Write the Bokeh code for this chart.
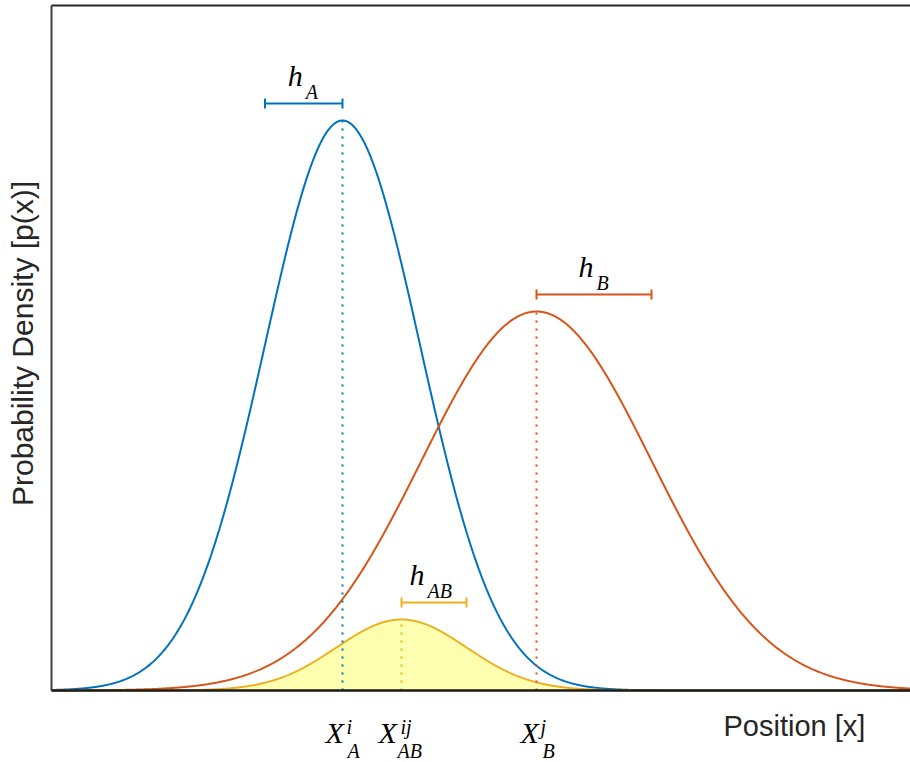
import numpy as np
from bokeh.plotting import figure
from bokeh.models import Label
from bokeh.embed import file_html
from bokeh.resources import INLINE

# ---- data (arbitrary position / density units) ----
names = ["A", "B", "AB"]
means = [291, 485, 350]          # centres X_A^i, X_B^j, X_AB^ij
sigmas = [77.5, 115, 65]         # widths h_A, h_B, h_AB
peaks = [570, 379, 71]           # peak densities
sup_txt = ["i", "j", "ij"]
colors = ["#0072BD", "#D95319", "#EDB120"]
fill_color = "#FFFFB0"
x_label = "Position [x]"
y_label = "Probability Density [p(x)]"

W, H = 910, 762
X0, X1 = -51, W - 51          # whole canvas is the frame
Y0, Y1 = 690 - H, 690
X_HI = 859                    # right end of the drawn axis box
Y_HI = 685                    # top of the axis box

p = figure(width=W, height=H, output_backend="svg", toolbar_location=None,
           x_range=(X0, X1), y_range=(Y0, Y1),
           min_border_left=0, min_border_right=0, min_border_top=0,
           min_border_bottom=0)
p.outline_line_color = None
p.grid.visible = False
p.axis.visible = False
p.background_fill_color = "white"
p.border_fill_color = "white"

xs = np.linspace(0, X_HI, 1400)
curves = [a * np.exp(-0.5 * ((xs - m) / s) ** 2) for m, s, a in zip(means, sigmas, peaks)]

# filled joint distribution
p.varea(x=xs, y1=np.zeros_like(xs), y2=curves[2], fill_color=fill_color)

for c, col in zip(curves, colors):
    p.line(xs, c, line_color=col, line_width=2)

# dotted centre lines
p.segment(x0=means, y0=[0] * 3, x1=means, y1=peaks, line_color=colors,
          line_dash="2 6", line_width=2)

# axis box: left line, top line, baseline
p.segment(x0=[0], y0=[0], x1=[0], y1=[Y_HI], line_color="#404040", line_width=2)
p.segment(x0=[0], y0=[Y_HI], x1=[X_HI], y1=[Y_HI], line_color="#262626", line_width=2)
p.segment(x0=[0], y0=[0], x1=[X_HI], y1=[0], line_color="#1a1a1a", line_width=2.5)

# width bars (h)
direction = [-1, 1, 1]
bar_off = 17
cap = 5
bx0, bx1, by = [], [], []
for m, s, a, d in zip(means, sigmas, peaks, direction):
    bx0.append(m if d > 0 else m - s)
    bx1.append(m + s if d > 0 else m)
    by.append(a + bar_off)
p.segment(x0=bx0, y0=by, x1=bx1, y1=by, line_color=colors, line_width=2)
p.segment(x0=bx0, y0=[y - cap for y in by], x1=bx0, y1=[y + cap for y in by],
          line_color=colors, line_width=2)
p.segment(x0=bx1, y0=[y - cap for y in by], x1=bx1, y1=[y + cap for y in by],
          line_color=colors, line_width=2)

SERIF = "Liberation Serif"
BIG, SMALL = 30, 20
DB, DS = 10, 7        # baseline correction for the two font sizes


def lab(x, y, text, size, font=SERIF, style="italic", color="black"):
    dy = DB if size >= 25 else DS
    p.add_layout(Label(x=x, y=y + dy, text=text, text_font=font, text_font_style=style,
                       text_font_size=f"{size}px", text_color=color,
                       text_baseline="alphabetic"))


h_shift = [-16, -15.5, -24.5]
for n, a, b0, b1, hs in zip(names, peaks, bx0, bx1, h_shift):
    cx = (b0 + b1) / 2 + hs
    lab(cx, a + 35, "h", BIG)
    lab(cx + 18, a + 22, n, SMALL)

# position labels under the axis
x_shift = [-17, -16, -23]
sup_dx = [21, 20, 22]
sub_dx = [22, 22, 19]
for n, m, st, xs_, sp, sb in zip(names, means, sup_txt, x_shift, sup_dx, sub_dx):
    x0 = m + xs_
    lab(x0, -52, "X", BIG)
    lab(x0 + sp, -43, st, SMALL)
    lab(x0 + sb, -67, n, SMALL)

lab(672, -45, x_label, 29, font="Liberation Sans", style="normal", color="#262626")

# vertical axis title
p.add_layout(Label(x=-29, y=347, text=y_label, angle=np.pi / 2, text_font="Liberation Sans",
                   text_font_size="30px", text_color="#262626", text_align="center",
                   text_baseline="middle"))

open("out.html", "w").write(file_html(p, INLINE))
